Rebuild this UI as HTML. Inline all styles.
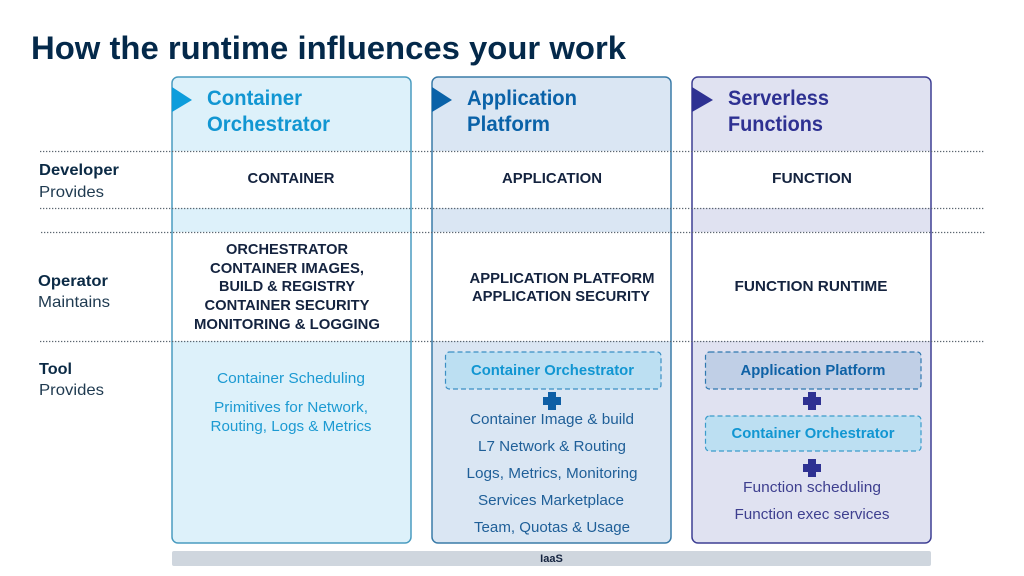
<!DOCTYPE html>
<html><head><meta charset="utf-8"><style>
html,body{margin:0;padding:0;background:#fff}
svg{display:block}
text{font-family:"Liberation Sans",sans-serif}
.h{font-size:21px;font-weight:700}
.b{font-size:15px;font-weight:700;fill:#14233f;text-anchor:middle}
.l{font-size:16px;font-weight:700;fill:#0b2a45}
.p{font-size:16px;fill:#1f3a50}
.s{font-size:15px;text-anchor:middle}
.d{font-size:15px;font-weight:700;text-anchor:middle}
</style></head><body>
<svg width="1024" height="576" viewBox="0 0 1024 576" xmlns="http://www.w3.org/2000/svg">
<rect width="1024" height="576" fill="#fff"/>
<text x="31" y="59" font-size="32" font-weight="700" fill="#04294a" textLength="595" lengthAdjust="spacingAndGlyphs">How the runtime influences your work</text>

<!-- panels -->
<rect x="172" y="77" width="239" height="466" rx="6" fill="#ddf1fa"/>
<rect x="432" y="77" width="239" height="466" rx="6" fill="#dae6f3"/>
<rect x="692" y="77" width="239" height="466" rx="6" fill="#e0e2f1"/>
<!-- white bands -->
<rect x="172" y="151" width="760" height="57" fill="#fff"/>
<rect x="172" y="232" width="760" height="109" fill="#fff"/>
<rect x="172" y="77" width="239" height="466" rx="6" fill="none" stroke="#4a9cc0" stroke-width="1.500"/>
<rect x="432" y="77" width="239" height="466" rx="6" fill="none" stroke="#3a7ba8" stroke-width="1.500"/>
<rect x="692" y="77" width="239" height="466" rx="6" fill="none" stroke="#3e3f94" stroke-width="1.500"/>
<!-- dotted -->
<g stroke="#5c6670" stroke-width="1.300" stroke-dasharray="1.300 1.700" fill="none">
<path d="M40 151.500H985"/><path d="M40 208.500H985"/><path d="M41 232.500H985"/><path d="M40 341.500H985"/>
</g>
<!-- triangles -->
<path d="M172 87L192 100L172 112Z" fill="#0d9ddc"/>
<path d="M432 87L452 100L432 112Z" fill="#0a62a8"/>
<path d="M692 87L713 100L692 112Z" fill="#2e3192"/>
<!-- headers -->
<text x="207" y="105" fill="#1196d2" class="h" textLength="95" lengthAdjust="spacingAndGlyphs">Container</text>
<text x="207" y="131" fill="#1196d2" class="h" textLength="123" lengthAdjust="spacingAndGlyphs">Orchestrator</text>
<text x="467" y="105" fill="#0a62a8" class="h" textLength="110" lengthAdjust="spacingAndGlyphs">Application</text>
<text x="467" y="131" fill="#0a62a8" class="h" textLength="83" lengthAdjust="spacingAndGlyphs">Platform</text>
<text x="728" y="105" fill="#2e3192" class="h" textLength="101" lengthAdjust="spacingAndGlyphs">Serverless</text>
<text x="728" y="131" fill="#2e3192" class="h" textLength="95" lengthAdjust="spacingAndGlyphs">Functions</text>
<!-- left labels -->
<text x="39" y="175" class="l" textLength="80" lengthAdjust="spacingAndGlyphs">Developer</text>
<text x="39" y="197" class="p" textLength="65" lengthAdjust="spacingAndGlyphs">Provides</text>
<text x="38" y="286" class="l" textLength="70" lengthAdjust="spacingAndGlyphs">Operator</text>
<text x="38" y="307" class="p" textLength="72" lengthAdjust="spacingAndGlyphs">Maintains</text>
<text x="39" y="374" class="l" textLength="33" lengthAdjust="spacingAndGlyphs">Tool</text>
<text x="39" y="395" class="p" textLength="65" lengthAdjust="spacingAndGlyphs">Provides</text>
<!-- bold rows -->
<text x="291" y="183" class="b" textLength="87" lengthAdjust="spacingAndGlyphs">CONTAINER</text>
<text x="552" y="183" class="b" textLength="100" lengthAdjust="spacingAndGlyphs">APPLICATION</text>
<text x="812" y="183" class="b" textLength="80" lengthAdjust="spacingAndGlyphs">FUNCTION</text>
<text x="287" y="254" class="b" textLength="122" lengthAdjust="spacingAndGlyphs">ORCHESTRATOR</text>
<text x="287" y="273" class="b" textLength="154" lengthAdjust="spacingAndGlyphs">CONTAINER IMAGES,</text>
<text x="287" y="291" class="b" textLength="136" lengthAdjust="spacingAndGlyphs">BUILD &amp; REGISTRY</text>
<text x="287" y="310" class="b" textLength="165" lengthAdjust="spacingAndGlyphs">CONTAINER SECURITY</text>
<text x="287" y="329" class="b" textLength="186" lengthAdjust="spacingAndGlyphs">MONITORING &amp; LOGGING</text>
<text x="562" y="283" class="b" textLength="185" lengthAdjust="spacingAndGlyphs">APPLICATION PLATFORM</text>
<text x="561" y="301" class="b" textLength="178" lengthAdjust="spacingAndGlyphs">APPLICATION SECURITY</text>
<text x="811" y="291" class="b" textLength="153" lengthAdjust="spacingAndGlyphs">FUNCTION RUNTIME</text>
<!-- col 1 tool -->
<g fill="#1c9ad2">
<text x="291" y="383" class="s" textLength="148" lengthAdjust="spacingAndGlyphs">Container Scheduling</text>
<text x="291" y="412" class="s" textLength="154" lengthAdjust="spacingAndGlyphs">Primitives for Network,</text>
<text x="291" y="431" class="s" textLength="161" lengthAdjust="spacingAndGlyphs">Routing, Logs &amp; Metrics</text>
</g>
<!-- col 2 tool -->
<rect x="445.500" y="352" width="215.500" height="37" rx="4" fill="#bcdff2" stroke="#3b8fc4" stroke-width="1.200" stroke-dasharray="5 3"/>
<text x="552.500" y="375" class="d" fill="#1196d2" textLength="163" lengthAdjust="spacingAndGlyphs">Container Orchestrator</text>
<path d="M548 392h8v5h5v8h-5v5h-8v-5h-5v-8h5z" fill="#0f5fa5"/>
<g fill="#1f5f98">
<text x="552" y="424" class="s" textLength="164" lengthAdjust="spacingAndGlyphs">Container Image &amp; build</text>
<text x="552" y="451" class="s" textLength="148" lengthAdjust="spacingAndGlyphs">L7 Network &amp; Routing</text>
<text x="552" y="478" class="s" textLength="171" lengthAdjust="spacingAndGlyphs">Logs, Metrics, Monitoring</text>
<text x="551" y="505" class="s" textLength="146" lengthAdjust="spacingAndGlyphs">Services Marketplace</text>
<text x="552" y="532" class="s" textLength="156" lengthAdjust="spacingAndGlyphs">Team, Quotas &amp; Usage</text>
</g>
<!-- col 3 tool -->
<rect x="705.500" y="352" width="215.500" height="37" rx="4" fill="#c0cfe6" stroke="#2f78b0" stroke-width="1.200" stroke-dasharray="5 3"/>
<text x="813" y="375" class="d" fill="#0f62a6" textLength="145" lengthAdjust="spacingAndGlyphs">Application Platform</text>
<path d="M808 392h8v5h5v8h-5v5h-8v-5h-5v-8h5z" fill="#2e3192"/>
<rect x="705.500" y="416" width="215.500" height="35" rx="4" fill="#bcdff2" stroke="#3b9ccb" stroke-width="1.200" stroke-dasharray="5 3"/>
<text x="813" y="438" class="d" fill="#1196d2" textLength="163" lengthAdjust="spacingAndGlyphs">Container Orchestrator</text>
<path d="M808 459h8v5h5v8h-5v5h-8v-5h-5v-8h5z" fill="#2e3192"/>
<g fill="#3e3f8f">
<text x="812" y="492" class="s" textLength="138" lengthAdjust="spacingAndGlyphs">Function scheduling</text>
<text x="812" y="519" class="s" textLength="155" lengthAdjust="spacingAndGlyphs">Function exec services</text>
</g>
<!-- IaaS -->
<rect x="172" y="551" width="759" height="15" rx="2" fill="#cfd6de"/>
<text x="551.500" y="562" font-size="11" font-weight="700" fill="#14233f" text-anchor="middle">IaaS</text>
</svg>
</body></html>
